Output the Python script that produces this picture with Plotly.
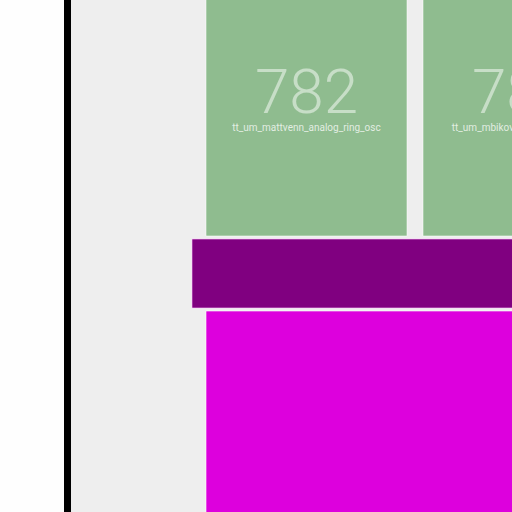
import plotly.graph_objects as go

# ---- data (layout coordinates, in view units) ----
tile_names = ["tt_um_mattvenn_analog_ring_osc", "tt_um_mbikovitsky_audio_player"]
tile_numbers = ["782", "783"]
tile_x0 = [206, 423]
tile_x1 = [407, 624]
tile_y0 = [-54, -54]
tile_y1 = [236, 236]

bar_x = [192, 760]
bar_y = [239, 308]

block_x = [206, 760]
block_y = [311, 760]

die_edge_x = [64, 71]

GREEN = "#8fbc8f"
PURPLE = "#800080"
MAGENTA = "#dd00dd"
GRAY = "#eeeeee"

fig = go.Figure()
shapes = []

# die boundary and die interior
shapes.append(dict(type="rect", xref="x", yref="y", x0=die_edge_x[1], x1=900,
                   y0=-100, y1=900, fillcolor=GRAY, line=dict(width=0), layer="below"))
shapes.append(dict(type="rect", xref="x", yref="y", x0=die_edge_x[0], x1=die_edge_x[1],
                   y0=-100, y1=900, fillcolor="#000000", line=dict(width=0), layer="below"))

# tiles
for x0, x1, y0, y1 in zip(tile_x0, tile_x1, tile_y0, tile_y1):
    shapes.append(dict(type="rect", xref="x", yref="y", x0=x0, x1=x1, y0=y0, y1=y1,
                       fillcolor=GREEN, line=dict(color="rgba(255,255,255,0.55)", width=1),
                       layer="below"))

# horizontal bar
shapes.append(dict(type="rect", xref="x", yref="y", x0=bar_x[0], x1=bar_x[1], y0=bar_y[0], y1=bar_y[1],
                   fillcolor=PURPLE, line=dict(color="rgba(255,200,255,0.6)", width=1), layer="below"))
# big block
shapes.append(dict(type="rect", xref="x", yref="y", x0=block_x[0], x1=block_x[1], y0=block_y[0], y1=block_y[1],
                   fillcolor=MAGENTA, line=dict(color="rgba(255,255,255,0.6)", width=1), layer="below"))

centers = [(a + b) / 2 for a, b in zip(tile_x0, tile_x1)]

fig.add_trace(go.Scatter(
    x=centers, y=[97] * len(centers), mode="text", text=tile_numbers,
    textposition="middle center", cliponaxis=True, hoverinfo="skip",
    textfont=dict(family="Roboto", size=62, color="rgba(255,255,255,0.5)", weight=300),
))
fig.add_trace(go.Scatter(
    x=centers, y=[128] * len(centers), mode="text", text=tile_names,
    textposition="middle center", cliponaxis=True, hoverinfo="skip",
    textfont=dict(family="Roboto", size=10, color="rgba(255,255,255,0.75)"),
))

fig.update_layout(
    width=512, height=512,
    margin=dict(l=0, r=0, t=0, b=0),
    paper_bgcolor="#fefefe", plot_bgcolor="#fefefe",
    shapes=shapes,
    xaxis=dict(range=[0, 512], visible=False, fixedrange=True),
    yaxis=dict(range=[512, 0], visible=False, fixedrange=True),
    showlegend=False,
)
fig.write_html("out.html")
